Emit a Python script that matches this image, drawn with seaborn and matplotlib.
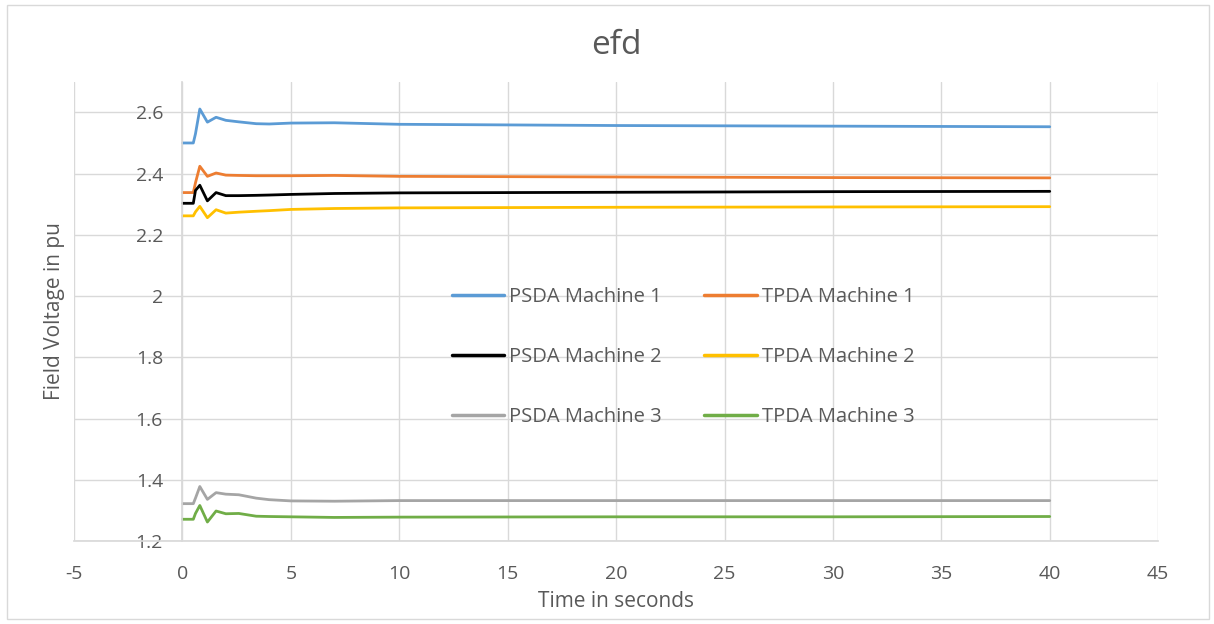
import numpy as np
import pandas as pd
import matplotlib
matplotlib.use("Agg")
import matplotlib.pyplot as plt
import seaborn as sns

# values
time_s = [0.0, 0.5, 0.6, 0.8, 1.15, 1.55, 2.0, 2.6, 3.4, 4.0, 5.0, 7.0, 10.0, 20.0, 30.0, 40.0]

psda_m1 = [2.500, 2.500, 2.530, 2.611, 2.568, 2.584, 2.574, 2.569, 2.563, 2.562, 2.565, 2.566, 2.561, 2.557, 2.555, 2.553]
tpda_m1 = [2.338, 2.338, 2.370, 2.424, 2.391, 2.402, 2.395, 2.394, 2.393, 2.393, 2.393, 2.394, 2.391, 2.389, 2.387, 2.386]
psda_m2 = [2.303, 2.303, 2.345, 2.362, 2.311, 2.338, 2.328, 2.328, 2.329, 2.330, 2.332, 2.335, 2.337, 2.339, 2.341, 2.342]
tpda_m2 = [2.262, 2.262, 2.275, 2.293, 2.256, 2.282, 2.271, 2.274, 2.277, 2.279, 2.283, 2.286, 2.288, 2.290, 2.291, 2.292]
psda_m3 = [1.322, 1.322, 1.340, 1.378, 1.336, 1.358, 1.353, 1.351, 1.340, 1.335, 1.331, 1.330, 1.332, 1.332, 1.332, 1.332]
tpda_m3 = [1.271, 1.271, 1.290, 1.316, 1.262, 1.298, 1.289, 1.290, 1.281, 1.280, 1.279, 1.277, 1.278, 1.279, 1.279, 1.280]

series_names = ["PSDA Machine 1", "TPDA Machine 1",
                "PSDA Machine 2", "TPDA Machine 2",
                "PSDA Machine 3", "TPDA Machine 3"]
series_values = [psda_m1, tpda_m1, psda_m2, tpda_m2, psda_m3, tpda_m3]
colors = ["#5B9BD5", "#ED7D31", "#000000", "#FFC000", "#A5A5A5", "#70AD47"]

x_ticks = [-5, 0, 5, 10, 15, 20, 25, 30, 35, 40, 45]
y_ticks = [1.2, 1.4, 1.6, 1.8, 2.0, 2.2, 2.4, 2.6]
y_ticklabels = ["1.2", "1.4", "1.6", "1.8", "2", "2.2", "2.4", "2.6"]

df = pd.concat(
    [pd.DataFrame({"time": time_s, "efd": v, "series": n})
     for n, v in zip(series_names, series_values)],
    ignore_index=True
)

sns.set_theme(style="whitegrid")
plt.rcParams["font.family"] = ["Open Sans", "DejaVu Sans"]
plt.rcParams["axes.unicode_minus"] = False

txt = "#595959"
grid = "#D9D9D9"

fig = plt.figure(figsize=(12.14, 6.24), dpi=100)
ax = fig.add_axes([0.061, 0.133, 0.893, 0.736])

sns.lineplot(
    data=df, x="time", y="efd", hue="series",
    hue_order=series_names, palette=dict(zip(series_names, colors)),
    linewidth=2, ax=ax
)

ax.set_xlim(-5, 45)
ax.set_ylim(1.2, 2.7)
ax.set_xticks(x_ticks)
ax.set_yticks(y_ticks)
ax.set_yticklabels(y_ticklabels)
ax.grid(True, color=grid, linewidth=1)
ax.set_axisbelow(True)

# value axis crosses at x = 0 like the spreadsheet
ax.spines["left"].set_position(("data", 0))
ax.spines["left"].set_color(grid)
ax.spines["bottom"].set_color(grid)
ax.spines["top"].set_visible(False)
ax.spines["right"].set_visible(False)
ax.tick_params(axis="x", length=0, labelsize=14, colors=txt, pad=17)
ax.tick_params(axis="y", length=0, labelsize=14, colors=txt, pad=14)

ax.set_xlabel("Time in seconds", fontsize=15, color=txt, labelpad=6)
ax.set_ylabel("Field Voltage in pu", fontsize=15, color=txt)
ax.yaxis.set_label_coords(-0.008, 0.5)
ax.set_title("efd", fontsize=24, color=txt, pad=20)

handles, labels = ax.get_legend_handles_labels()
order = [0, 2, 4, 1, 3, 5]  # row-major layout for 2 columns
leg = ax.legend(
    [handles[i] for i in order], [labels[i] for i in order],
    ncol=2, loc="center", bbox_to_anchor=(0.562, 0.401),
    frameon=False, fontsize=14.5, labelspacing=2.0,
    handlelength=2.6, handletextpad=0.25, columnspacing=2.1
)
for t in leg.get_texts():
    t.set_color(txt)
for h in leg.get_lines():
    h.set_linewidth(2.5)

# chart border like the spreadsheet frame
fig.patches.append(plt.Rectangle((0.006, 0.008), 0.99, 0.984, transform=fig.transFigure,
                                 fill=False, edgecolor="#D9D9D9", linewidth=1))

plt.savefig("out.png", dpi=100)
plt.close()
